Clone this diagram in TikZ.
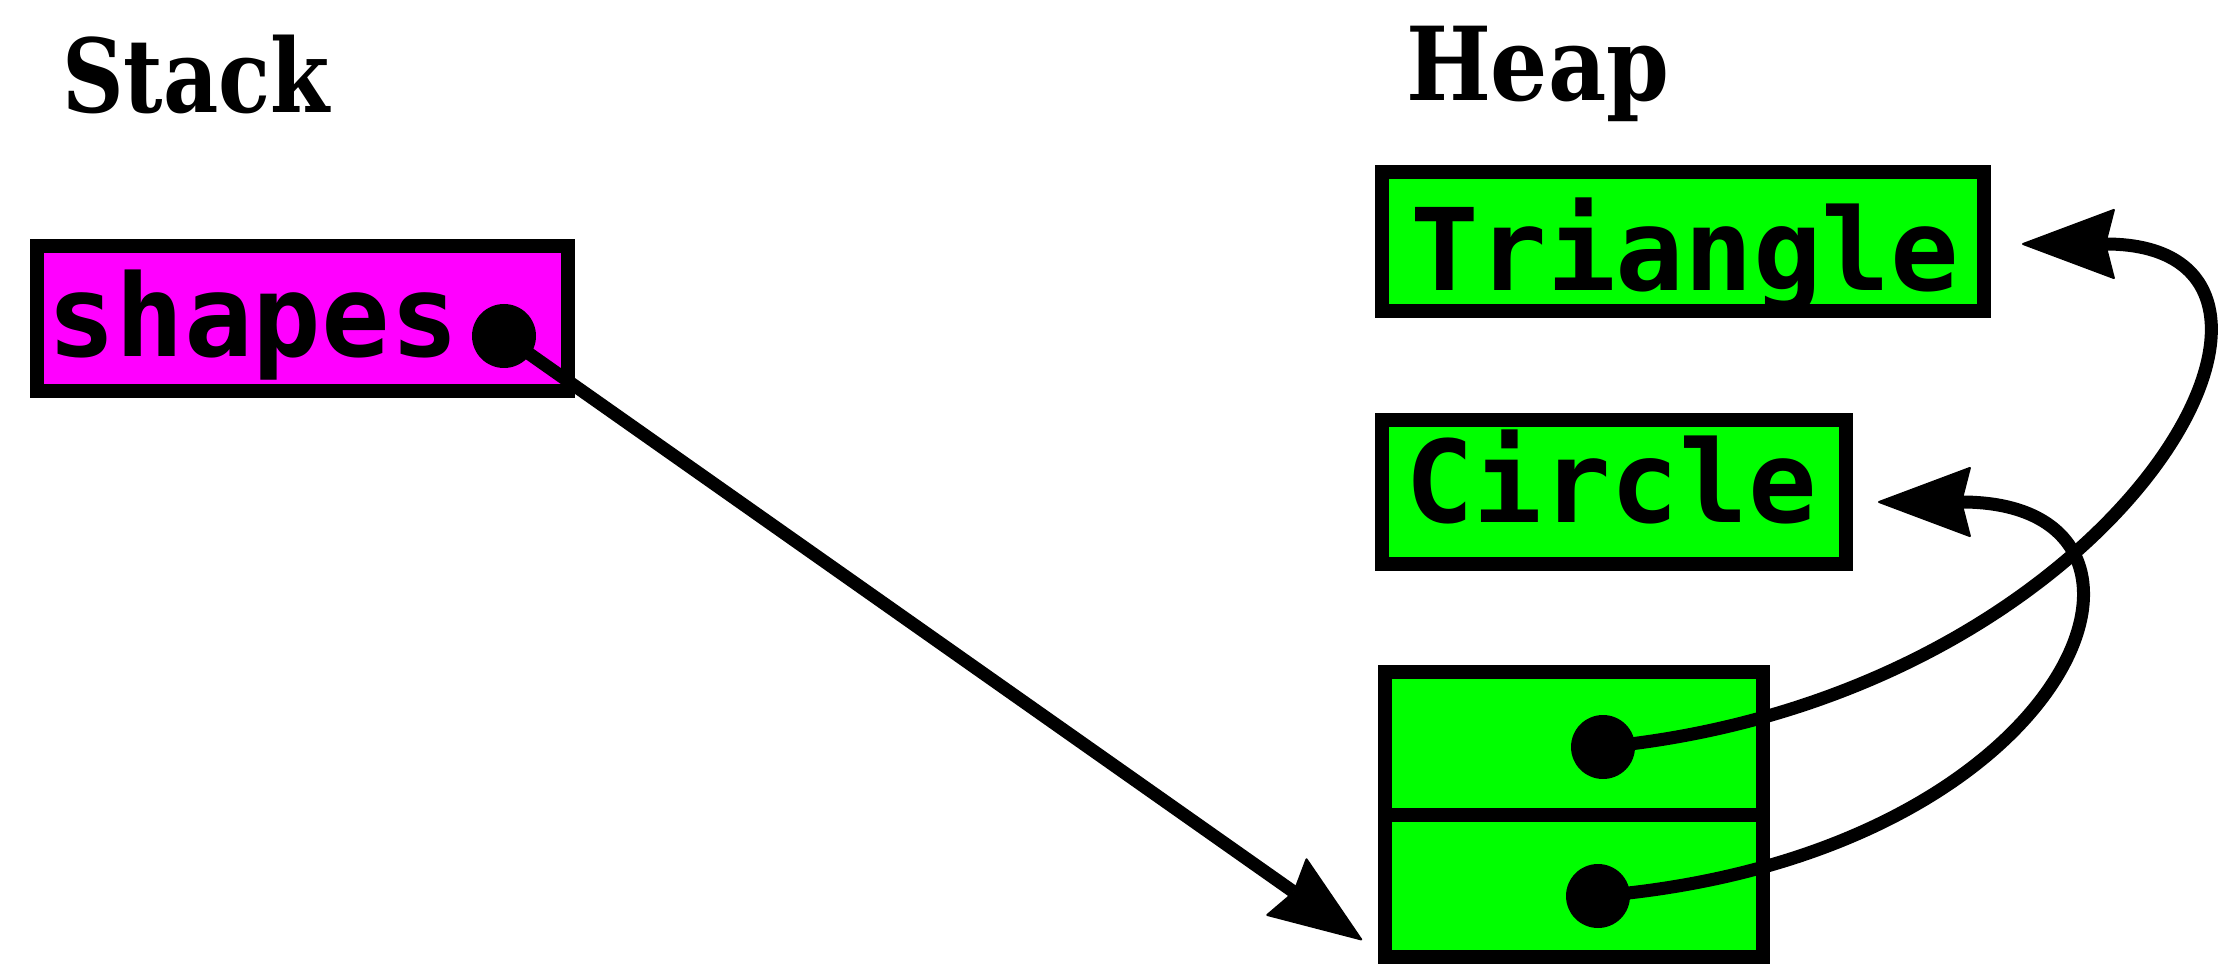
\documentclass[tikz,border=0pt]{standalone}
\usepackage{fontspec}
\usetikzlibrary{arrows.meta,calc}
\newfontfamily\codefont{DejaVu Sans Mono}
\IfFontExistsTF{DejaVuSerifCondensed-Bold.ttf}
  {\newfontfamily\titlefont{DejaVuSerifCondensed-Bold.ttf}}
  {\newfontfamily\titlefont{DejaVu Serif Bold}[FakeStretch=0.9]}
\definecolor{stackfill}{HTML}{FF00FF}
\definecolor{heapfill}{HTML}{00FF00}
\tikzset{
  cellbox/.style={rectangle, draw=black, line width=7pt, outer sep=0pt, inner sep=0pt},
  stackcell/.style={cellbox, fill=stackfill},
  heapcell/.style={cellbox, fill=heapfill},
  txt/.style={anchor=base west, inner sep=0pt, outer sep=0pt},
  code/.style={txt, font={\codefont\bfseries\fontsize{57pt}{60pt}\selectfont}},
  title/.style={txt, font={\titlefont\fontsize{51pt}{60pt}\selectfont}},
  ptr/.style={circle, fill=black, minimum size=32pt, inner sep=0pt, outer sep=0pt},
  link/.style={line width=6.5pt,
    -{Stealth[length=47.5pt,width=35.5pt,inset=4.5pt,line width=1pt,round]}},
}
\begin{document}
\begin{tikzpicture}[x=0.5pt, y=-0.5pt]
\useasboundingbox (0,0) rectangle (2234,968);

% section titles
\node[title] (stackT) at (62,113) {\scalebox{0.93}[1]{Stack}};
\node[title] (heapT) at (1406,101) {\scalebox{0.98}[1]{Heap}};

% stack variable
\node[stackcell, minimum width=265.5pt, minimum height=72.5pt] (shp) at (302.5,318.5) {};
\node[code] (shpT) at (47,357) {shapes};

% heap objects
\node[heapcell, minimum width=301pt, minimum height=69.5pt] (tri) at (1683,241.5) {};
\node[code] (triT) at (1410,291) {Triangle};
\node[heapcell, minimum width=232pt, minimum height=72pt] (circ) at (1614,492) {};
\node[code] (circT) at (1405,522) {Circle};

% array of two pointers
\node[heapcell, minimum width=189pt, minimum height=71.5pt] (cellA) at (1574,743.5) {};
\node[heapcell, minimum width=189pt, minimum height=71pt] (cellB) at (1574,886) {};

% pointer dots
\node[ptr] (d0) at (504,336) {};
\node[ptr] (dA) at (1603,747) {};
\node[ptr] (dB) at (1598,896) {};

% arrow targets
\coordinate (tip0) at ($(cellB.south west)+(-23,-17)$);
\coordinate (tipT) at ($(tri.east)+(38,2.5)$);
\coordinate (tipC) at ($(circ.east)+(32,10)$);

% references
\draw[link] (d0.center) -- (tip0);
\draw[link] (dA.center) .. controls +(520,-50) and +(345,0) .. (tipT);
\draw[link] (dB.center) .. controls +(480,-40) and +(330,0) .. (tipC);
\end{tikzpicture}
\end{document}
